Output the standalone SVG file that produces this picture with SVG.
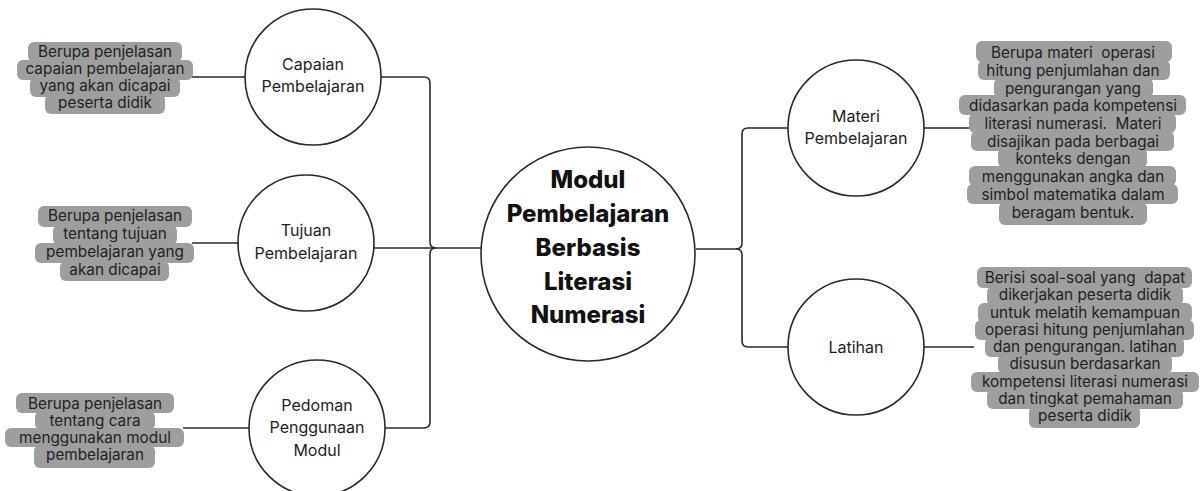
<svg xmlns="http://www.w3.org/2000/svg" width="1200" height="491" viewBox="0 0 1200 491">
<style>
.node{fill:#fff;stroke:#2a2a2a;stroke-width:1.6}
.nt{font-family:Inter,"Liberation Sans",sans-serif;font-size:16px;fill:#1e1e1e;text-anchor:middle}
.ct{font-family:Inter,"Liberation Sans",sans-serif;font-size:24px;font-weight:800;fill:#111;text-anchor:middle}
.hl{fill:#9e9e9e}
.dt{font-family:Inter,"Liberation Sans",sans-serif;font-size:15.3px;fill:#1e1e1e;text-anchor:middle;white-space:pre}
.cn{fill:none;stroke:#2a2a2a;stroke-width:1.6}
</style>
<rect width="1200" height="491" fill="#fff"/>
<g id="connectors">
<path class="cn" d="M192 77H245M192 243H238M183 428H249"/>
<path class="cn" d="M381 77H424Q430 77 430 83V242Q430 248 436 248"/>
<path class="cn" d="M385 428H424Q430 428 430 422V254Q430 248 436 248"/>
<path class="cn" d="M374 248H481"/>
<path class="cn" d="M696 249H736"/>
<path class="cn" d="M788 128H748Q742 128 742 134V243Q742 249 736 249"/>
<path class="cn" d="M788 347H748Q742 347 742 341V255Q742 249 736 249"/>
<path class="cn" d="M924 128H973M924 347H974"/>
</g>
<g id="center">
<circle class="node" cx="588" cy="254" r="107"/>
<text class="ct" x="588" y="188">Modul</text>
<text class="ct" x="588" y="222">Pembelajaran</text>
<text class="ct" x="588" y="256">Berbasis</text>
<text class="ct" x="588" y="290">Literasi</text>
<text class="ct" x="588" y="323">Numerasi</text>
</g>
<g id="capaian">
<circle class="node" cx="313" cy="77" r="68"/>
<text class="nt" x="313" y="70">Capaian</text>
<text class="nt" x="313" y="92">Pembelajaran</text>
</g>
<g id="tujuan">
<circle class="node" cx="306" cy="243" r="68"/>
<text class="nt" x="306" y="236">Tujuan</text>
<text class="nt" x="306" y="259">Pembelajaran</text>
</g>
<g id="pedoman">
<circle class="node" cx="317" cy="428" r="68"/>
<text class="nt" x="317" y="411">Pedoman</text>
<text class="nt" x="317" y="433">Penggunaan</text>
<text class="nt" x="317" y="456">Modul</text>
</g>
<g id="materi">
<circle class="node" cx="856" cy="128" r="68"/>
<text class="nt" x="856" y="122">Materi</text>
<text class="nt" x="856" y="144">Pembelajaran</text>
</g>
<g id="latihan">
<circle class="node" cx="856" cy="347" r="68"/>
<text class="nt" x="856" y="353">Latihan</text>
</g>
<g id="desc-capaian">
<rect class="hl" x="28" y="42" width="154" height="20" rx="6"/>
<rect class="hl" x="17" y="60" width="176" height="20" rx="6"/>
<rect class="hl" x="30" y="77" width="150" height="20" rx="6"/>
<rect class="hl" x="45" y="94" width="120" height="20" rx="6"/>
<text class="dt" x="105" y="57">Berupa penjelasan</text>
<text class="dt" x="105" y="74">capaian pembelajaran</text>
<text class="dt" x="105" y="91">yang akan dicapai</text>
<text class="dt" x="105" y="108">peserta didik</text>
</g>
<g id="desc-tujuan">
<rect class="hl" x="38" y="206" width="154" height="21" rx="6"/>
<rect class="hl" x="53" y="225" width="124" height="20" rx="6"/>
<rect class="hl" x="35" y="243" width="159" height="20" rx="6"/>
<rect class="hl" x="60" y="261" width="109" height="20" rx="6"/>
<text class="dt" x="115" y="221">Berupa penjelasan</text>
<text class="dt" x="115" y="239">tentang tujuan</text>
<text class="dt" x="115" y="257">pembelajaran yang</text>
<text class="dt" x="115" y="275">akan dicapai</text>
</g>
<g id="desc-pedoman">
<rect class="hl" x="16" y="393" width="158" height="20" rx="6"/>
<rect class="hl" x="35" y="411" width="120" height="19" rx="6"/>
<rect class="hl" x="5" y="428" width="179" height="19" rx="6"/>
<rect class="hl" x="34" y="445" width="121" height="23" rx="6"/>
<text class="dt" x="95" y="409">Berupa penjelasan</text>
<text class="dt" x="95" y="426">tentang cara</text>
<text class="dt" x="95" y="443">menggunakan modul</text>
<text class="dt" x="95" y="460">pembelajaran</text>
</g>
<g id="desc-materi">
<rect class="hl" x="976" y="41" width="196" height="21" rx="6"/>
<rect class="hl" x="978" y="60" width="192" height="20" rx="6"/>
<rect class="hl" x="994" y="78" width="159" height="20" rx="6"/>
<rect class="hl" x="959" y="95" width="227" height="20" rx="6"/>
<rect class="hl" x="969" y="113" width="207" height="20" rx="6"/>
<rect class="hl" x="971" y="131" width="203" height="20" rx="6"/>
<rect class="hl" x="998" y="148" width="149" height="20" rx="6"/>
<rect class="hl" x="969" y="166" width="207" height="20" rx="6"/>
<rect class="hl" x="967" y="184" width="211" height="20" rx="6"/>
<rect class="hl" x="999" y="202" width="148" height="23" rx="6"/>
<text class="dt" x="1073" y="58">Berupa materi  operasi</text>
<text class="dt" x="1073" y="76">hitung penjumlahan dan</text>
<text class="dt" x="1073" y="94">pengurangan yang</text>
<text class="dt" x="1073" y="111">didasarkan pada kompetensi</text>
<text class="dt" x="1073" y="129">literasi numerasi.  Materi</text>
<text class="dt" x="1073" y="147">disajikan pada berbagai</text>
<text class="dt" x="1073" y="164">konteks dengan</text>
<text class="dt" x="1073" y="182">menggunakan angka dan</text>
<text class="dt" x="1073" y="200">simbol matematika dalam</text>
<text class="dt" x="1073" y="218">beragam bentuk.</text>
</g>
<g id="desc-latihan">
<rect class="hl" x="977" y="267" width="215" height="21" rx="6"/>
<rect class="hl" x="987" y="286" width="196" height="20" rx="6"/>
<rect class="hl" x="978" y="303" width="214" height="20" rx="6"/>
<rect class="hl" x="975" y="320" width="219" height="20" rx="6"/>
<rect class="hl" x="985" y="337" width="199" height="20" rx="6"/>
<rect class="hl" x="998" y="354" width="174" height="20" rx="6"/>
<rect class="hl" x="971" y="372" width="228" height="20" rx="6"/>
<rect class="hl" x="987" y="389" width="196" height="20" rx="6"/>
<rect class="hl" x="1029" y="406" width="111" height="22" rx="6"/>
<text class="dt" x="1085" y="283">Berisi soal-soal yang  dapat</text>
<text class="dt" x="1085" y="300">dikerjakan peserta didik</text>
<text class="dt" x="1085" y="318">untuk melatih kemampuan</text>
<text class="dt" x="1085" y="335">operasi hitung penjumlahan</text>
<text class="dt" x="1085" y="352">dan pengurangan. latihan</text>
<text class="dt" x="1085" y="369">disusun berdasarkan</text>
<text class="dt" x="1085" y="387">kompetensi literasi numerasi</text>
<text class="dt" x="1085" y="404">dan tingkat pemahaman</text>
<text class="dt" x="1085" y="421">peserta didik</text>
</g>
</svg>
